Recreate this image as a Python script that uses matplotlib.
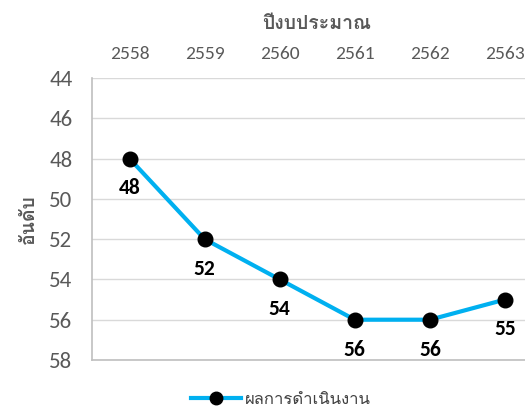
import matplotlib
matplotlib.use("Agg")
import matplotlib.pyplot as plt
from matplotlib.lines import Line2D

years = ["2558", "2559", "2560", "2561", "2562", "2563"]
ranks = [48, 52, 54, 56, 56, 55]
y_ticks = [44, 46, 48, 50, 52, 54, 56, 58]
series_name = "ผลการดำเนินงาน"
x_title = "ปีงบประมาณ"
y_title = "อันดับ"

THAI = ["Loma", "Noto Sans Thai", "DejaVu Sans"]
NUM = ["Carlito", "Lato", "DejaVu Sans"]
GRAY = "#595959"
LINE = "#00B0F0"

W, H = 525, 413
fig = plt.figure(figsize=(W / 100, H / 100), dpi=100)
left, right, top, bottom = 92, 542.5, 78, 360
ax = fig.add_axes([left / W, 1 - bottom / H, (right - left) / W, (bottom - top) / H])

x = list(range(len(years)))
ax.plot(x, ranks, color=LINE, lw=3.0, marker="o", markersize=10.5,
        markerfacecolor="black", markeredgecolor="black", zorder=3, clip_on=False)
for xi, v in zip(x, ranks):
    ax.annotate(str(v), (xi, v), xytext=(0, -21.5), textcoords="offset points",
                ha="center", va="center", fontsize=15.5, fontweight="bold",
                color="black", family=NUM)

ax.set_xlim(-0.5, len(years) - 0.5)
ax.set_ylim(58, 44)
ax.set_yticks(y_ticks)
ax.set_xticks(x)
ax.set_xticklabels(years)
ax.xaxis.tick_top()
ax.tick_params(axis="x", length=0, pad=11.5, labelsize=14, labelcolor=GRAY)
ax.tick_params(axis="y", length=0, pad=14, labelsize=16.5, labelcolor=GRAY)
for lab in ax.get_xticklabels() + ax.get_yticklabels():
    lab.set_family(NUM)
ax.grid(axis="y", color="#D9D9D9", lw=1)
ax.set_axisbelow(True)
for s in ["top", "right"]:
    ax.spines[s].set_visible(False)
ax.spines["left"].set_color("#BFBFBF")
ax.spines["bottom"].set_color("#BFBFBF")
ax.spines["left"].set_linewidth(1.2)
ax.spines["bottom"].set_linewidth(1.2)

fig.text(317 / W, 1 - 24 / H, x_title, ha="center", va="center", fontsize=14,
         fontweight="bold", color=GRAY, family=THAI)
fig.text(29 / W, 1 - 219 / H, y_title, ha="center", va="center", fontsize=14,
         fontweight="bold", color=GRAY, rotation=90, family=THAI)

handle = Line2D([], [], color=LINE, lw=3.0, marker="o", markersize=9,
                markerfacecolor="black", markeredgecolor="black")
leg = fig.legend([handle], [series_name], loc="center", bbox_to_anchor=(281 / W, 1 - 400 / H),
                 frameon=False, handlelength=3.0, handletextpad=0.2,
                 prop={"family": THAI, "size": 12})
for t in leg.get_texts():
    t.set_color("#404040")

fig.savefig("out.png", dpi=100)
